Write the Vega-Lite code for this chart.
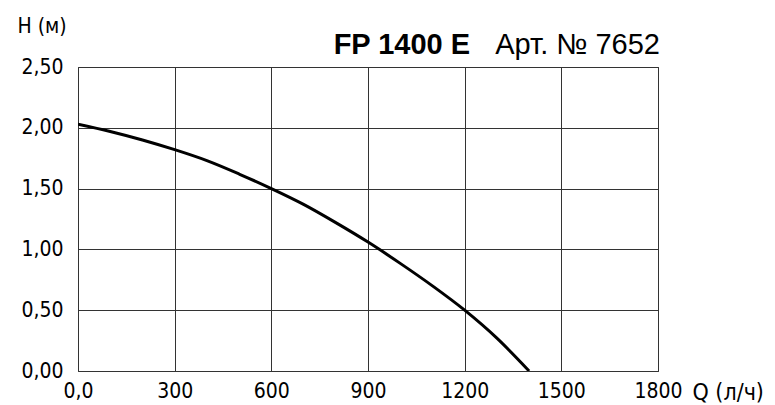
{
  "$schema": "https://vega.github.io/schema/vega-lite/v6.json",
  "width": 580,
  "height": 304,
  "autosize": "none",
  "padding": {"left": 78, "top": 67, "right": 117, "bottom": 34},
  "background": "white",
  "config": {
    "view": {"stroke": "#333", "strokeWidth": 1},
    "font": "DejaVu Sans Condensed"
  },
  "datasets": {
    "curve": [
      {"Q": 0, "H": 2.03},
      {"Q": 100, "H": 1.97},
      {"Q": 200, "H": 1.9},
      {"Q": 300, "H": 1.82},
      {"Q": 400, "H": 1.73},
      {"Q": 500, "H": 1.62},
      {"Q": 600, "H": 1.5},
      {"Q": 700, "H": 1.37},
      {"Q": 800, "H": 1.22},
      {"Q": 900, "H": 1.06},
      {"Q": 1000, "H": 0.885},
      {"Q": 1100, "H": 0.7},
      {"Q": 1200, "H": 0.5},
      {"Q": 1300, "H": 0.27},
      {"Q": 1400, "H": 0.0}
    ],
    "model": [
      {"Q": 1217, "H": 2.5, "label": "FP 1400 E"}
    ],
    "art": [
      {"Q": 1806, "H": 2.5, "label": "Арт. № 7652"}
    ]
  },
  "layer": [
    {
      "data": {"name": "curve"},
      "mark": {"type": "line", "color": "black", "strokeWidth": 3, "interpolate": "monotone", "clip": true},
      "encoding": {
        "x": {
          "field": "Q", "type": "quantitative",
          "scale": {"domain": [0, 1800], "nice": false},
          "axis": {
            "values": [0, 300, 600, 900, 1200, 1500, 1800],
            "labelExpr": "datum.value == 0 ? '0,0' : format(datum.value, 'd')",
            "grid": true, "gridColor": "#333", "gridWidth": 1, "gridOpacity": 1,
            "domain": false, "ticks": false, "labelFlush": false, "labelOverlap": false,
            "labelFont": "DejaVu Sans Condensed", "labelFontSize": 21, "labelColor": "black",
            "labelPadding": 9, "labelBaseline": "top",
            "title": "Q (л/ч)", "titleFont": "DejaVu Sans Condensed", "titleFontSize": 23,
            "titleFontWeight": "normal", "titleColor": "black",
            "titleAlign": "left", "titleBaseline": "alphabetic", "titleAnchor": "start",
            "titleX": 614, "titleY": 28
          }
        },
        "y": {
          "field": "H", "type": "quantitative",
          "scale": {"domain": [0, 2.5], "nice": false},
          "axis": {
            "values": [0, 0.5, 1, 1.5, 2, 2.5],
            "labelExpr": "replace(format(datum.value, '.2f'), '.', ',')",
            "grid": true, "gridColor": "#333", "gridWidth": 1, "gridOpacity": 1,
            "domain": false, "ticks": false, "labelFlush": false, "labelOverlap": false,
            "labelFont": "DejaVu Sans Condensed", "labelFontSize": 21, "labelColor": "black",
            "labelPadding": 15,
            "title": "H (м)", "titleFont": "DejaVu Sans Condensed", "titleFontSize": 21,
            "titleFontWeight": "normal", "titleColor": "black", "titleAngle": 0,
            "titleAlign": "left", "titleBaseline": "alphabetic", "titleAnchor": "start",
            "titleX": -61, "titleY": -35
          }
        }
      }
    },
    {
      "data": {"name": "model"},
      "mark": {"type": "text", "align": "right", "baseline": "alphabetic", "dy": -13, "font": "Liberation Sans", "fontSize": 29, "fontWeight": "bold", "color": "black"},
      "encoding": {
        "x": {"field": "Q", "type": "quantitative"},
        "y": {"field": "H", "type": "quantitative"},
        "text": {"field": "label"}
      }
    },
    {
      "data": {"name": "art"},
      "mark": {"type": "text", "align": "right", "baseline": "alphabetic", "dy": -13, "font": "Liberation Sans", "fontSize": 29, "fontWeight": "normal", "color": "black"},
      "encoding": {
        "x": {"field": "Q", "type": "quantitative"},
        "y": {"field": "H", "type": "quantitative"},
        "text": {"field": "label"}
      }
    }
  ]
}
